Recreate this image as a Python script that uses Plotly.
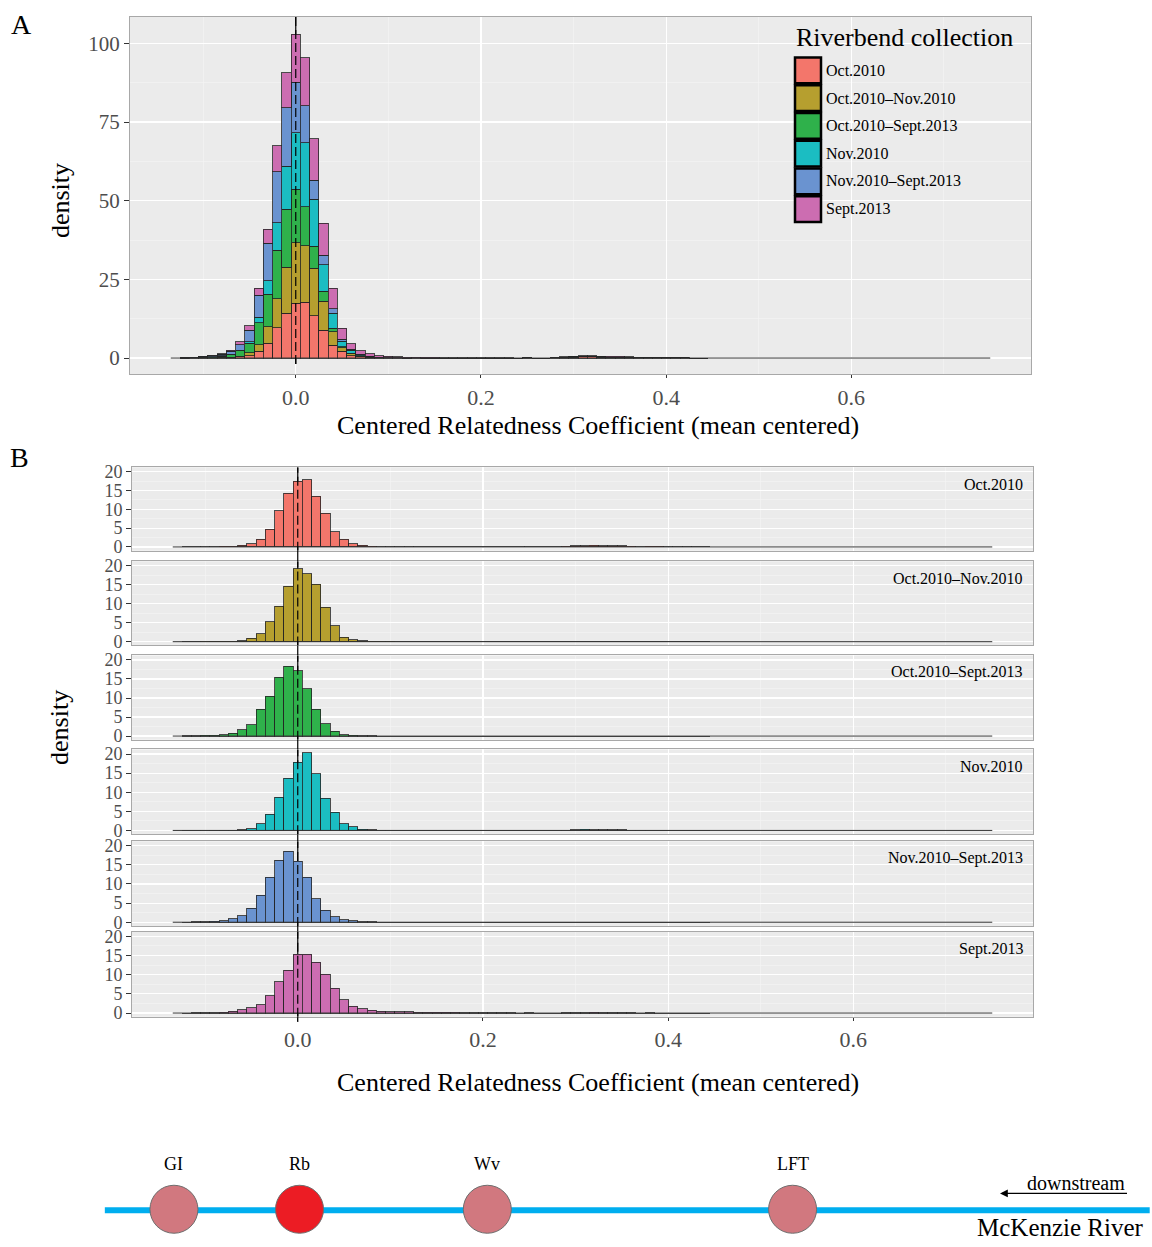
import plotly.graph_objects as go

W, H = 1152, 1247
FONT = "Liberation Serif"

# ---------------- data ----------------
GROUPS = ["Oct.2010", "Oct.2010\u2013Nov.2010", "Oct.2010\u2013Sept.2013",
          "Nov.2010", "Nov.2010\u2013Sept.2013", "Sept.2013"]
COLORS = ["#F3766B", "#B69F2F", "#2FB14B", "#1BBDC2", "#6A93D0", "#CC6DB1"]

BIN_WIDTH = 0.01
CORE_CENTERS = [-0.12, -0.11, -0.10, -0.09, -0.08, -0.07, -0.06, -0.05, -0.04,
                -0.03, -0.02, -0.01, 0.00, 0.01, 0.02, 0.03, 0.04, 0.05, 0.06,
                0.07, 0.08, 0.09, 0.10, 0.11, 0.12]
TAIL_CENTERS = [0.13, 0.14, 0.15, 0.16, 0.17, 0.18, 0.19, 0.20, 0.21, 0.22,
                0.23, 0.24, 0.25, 0.26, 0.27, 0.28, 0.29, 0.30, 0.31, 0.32,
                0.33, 0.34, 0.35, 0.36, 0.37, 0.38, 0.39, 0.40, 0.41, 0.42,
                0.43, 0.44]

OCT2010_CORE = [0, 0.05, 0.1, 0.1, 0.15, 0.2, 0.4, 0.8, 2.1, 4.7, 9.6, 14.3, 17.4,
                17.8, 13.5, 8.9, 4.1, 2.1, 0.8, 0.4, 0.2, 0.1, 0.05, 0.05, 0]
OCT2010_TAIL = [0.05, 0, 0, 0, 0, 0, 0, 0, 0, 0, 0, 0, 0.05, 0, 0, 0.05,
                0.2, 0.3, 0.35, 0.4, 0.3, 0.25, 0.3, 0.2, 0.1, 0.2, 0.15, 0.1, 0.05, 0.05, 0, 0]

OCTNOV_CORE = [0, 0, 0.05, 0.05, 0.1, 0.1, 0.2, 0.9, 2.1, 5.2, 9.3, 14.6, 19.2,
               17.9, 15.1, 9.1, 4.2, 1.2, 0.5, 0.2, 0.1, 0.05, 0.05, 0, 0]
OCTNOV_TAIL = [0] * 32

OCTSEPT_CORE = [0.05, 0.1, 0.15, 0.2, 0.35, 0.8, 1.7, 3.0, 7.0, 10.4, 15.4, 18.4, 17.1,
                12.4, 7.0, 3.2, 1.2, 0.35, 0.2, 0.1, 0.05, 0, 0, 0, 0]
OCTSEPT_TAIL = [0] * 32

NOV2010_CORE = [0, 0, 0.05, 0.05, 0.1, 0.1, 0.2, 0.5, 1.7, 4.3, 8.7, 13.6, 17.9,
                20.3, 14.8, 8.4, 4.8, 1.7, 0.9, 0.35, 0.15, 0.05, 0.05, 0, 0]
NOV2010_TAIL = [0, 0, 0, 0, 0, 0, 0, 0, 0, 0, 0, 0, 0, 0, 0, 0,
                0.1, 0.2, 0.25, 0.2, 0.2, 0.15, 0.15, 0.1, 0.1, 0, 0, 0, 0, 0, 0, 0]

NOVSEPT_CORE = [0.05, 0.1, 0.15, 0.25, 0.45, 0.9, 1.75, 3.7, 7.0, 11.8, 16.2, 18.6, 16.0,
                11.7, 6.1, 3.1, 1.4, 0.6, 0.35, 0.15, 0.1, 0.05, 0, 0, 0]
NOVSEPT_TAIL = [0] * 32

SEPT2013_CORE = [0, 0.05, 0.05, 0.1, 0.2, 0.45, 0.9, 1.4, 2.2, 4.5, 8.2, 11.2, 15.3,
                 15.3, 13.2, 10.1, 6.5, 3.5, 1.8, 1.1, 0.7, 0.45, 0.35, 0.3, 0.3]
SEPT2013_TAIL = [0.25, 0.2, 0.2, 0.15, 0.15, 0.1, 0.1, 0.1, 0.05, 0.05, 0.05, 0, 0.05, 0, 0, 0,
                 0.05, 0.1, 0.1, 0.15, 0.1, 0.1, 0.1, 0.05, 0, 0.1, 0, 0, 0, 0, 0, 0]

CORES = [OCT2010_CORE, OCTNOV_CORE, OCTSEPT_CORE, NOV2010_CORE, NOVSEPT_CORE, SEPT2013_CORE]
TAILS = [OCT2010_TAIL, OCTNOV_TAIL, OCTSEPT_TAIL, NOV2010_TAIL, NOVSEPT_TAIL, SEPT2013_TAIL]

X_MIN, X_MAX = -0.135, 0.75          # range of the observed coefficients
X_TICKS = [0.0, 0.2, 0.4, 0.6]
X_TICK_LABELS = ["0.0", "0.2", "0.4", "0.6"]
X_MINOR = [-0.1, 0.1, 0.3, 0.5, 0.7]
YA_TICKS = [0, 25, 50, 75, 100]
YA_MINOR = [12.5, 37.5, 62.5, 87.5]
YB_TICKS = [0, 5, 10, 15, 20]
YB_MINOR = [2.5, 7.5, 12.5, 17.5]

SITE_NAMES = ["GI", "Rb", "Wv", "LFT"]
SITE_POS = [15.1, 26.0, 42.3, 68.8]     # position along river schematic
SITE_FILL = ["#D1787F", "#EC1C24", "#D1787F", "#D1787F"]
RIVER_X = [9.1, 99.8]

# ---------------- helpers ----------------
def px(xp):
    return xp / W

def py(yp):
    return 1 - yp / H

BG = "#EBEBEB"
BORDER = "#A8A8A8"
TICKFONT_COLOR = "#4D4D4D"
OUTLINE = "rgba(35,35,35,0.8)"

fig = go.Figure()

xs_all = CORE_CENTERS + TAIL_CENTERS

# Panel A baseline + stacked bars
fig.add_trace(go.Scatter(x=[X_MIN, X_MAX], y=[0, 0], mode="lines",
                         line=dict(color="#333333", width=1), xaxis="x", yaxis="y",
                         showlegend=False, hoverinfo="skip"))
for g, col, core, tail in zip(GROUPS, COLORS, CORES, TAILS):
    fig.add_trace(go.Bar(x=xs_all, y=core + tail, width=BIN_WIDTH, name=g,
                         marker=dict(color=col, line=dict(color=OUTLINE, width=1)),
                         xaxis="x", yaxis="y", showlegend=False))

# Panel B facets
FACETS = [(466.7, 551.0), (561.7, 646.7), (656.7, 742.0),
          (751.7, 837.3), (844.3, 930.0), (935.7, 1021.7)]
for i, (g, col, core, tail) in enumerate(zip(GROUPS, COLORS, CORES, TAILS)):
    k = i + 2
    fig.add_trace(go.Scatter(x=[X_MIN, X_MAX], y=[0, 0], mode="lines",
                             line=dict(color="#333333", width=1),
                             xaxis=f"x{k}", yaxis=f"y{k}",
                             showlegend=False, hoverinfo="skip"))
    fig.add_trace(go.Bar(x=xs_all, y=core + tail, width=BIN_WIDTH, name=g,
                         marker=dict(color=col, line=dict(color=OUTLINE, width=1)),
                         xaxis=f"x{k}", yaxis=f"y{k}", showlegend=False))

# River schematic
fig.add_trace(go.Scatter(x=RIVER_X, y=[0.31, 0.31], mode="lines",
                         line=dict(color="#00AEEF", width=6),
                         xaxis="x8", yaxis="y8", showlegend=False, hoverinfo="skip"))
fig.add_trace(go.Scatter(x=SITE_POS, y=[0.32] * len(SITE_POS), mode="markers",
                         marker=dict(size=48, color=SITE_FILL,
                                     line=dict(color="#6E6E6E", width=1)),
                         xaxis="x8", yaxis="y8", showlegend=False, hoverinfo="skip"))

# ---------------- axes ----------------
def xaxis_cfg(domain, show_labels, anchor):
    return dict(domain=domain, anchor=anchor, range=[-0.179, 0.794],
                tickvals=X_TICKS, ticktext=X_TICK_LABELS,
                showticklabels=show_labels, ticks="outside" if show_labels else "",
                ticklen=3, tickwidth=1, tickcolor="#333333",
                tickfont=dict(family=FONT, size=22, color=TICKFONT_COLOR),
                showgrid=True, gridcolor="white", gridwidth=1.2,
                minor=dict(tickvals=X_MINOR, showgrid=True, gridcolor="#F5F5F5",
                           gridwidth=0.6, ticks=""),
                zeroline=False, showline=True, mirror=True,
                linecolor=BORDER, linewidth=1)

def yaxis_cfg(domain, rng, ticks, minor, size, anchor):
    return dict(domain=domain, anchor=anchor, range=rng, tickvals=ticks,
                ticks="outside", ticklen=5, tickwidth=1, tickcolor="#333333",
                tickfont=dict(family=FONT, size=size, color=TICKFONT_COLOR),
                showgrid=True, gridcolor="white", gridwidth=1.2,
                minor=dict(tickvals=minor, showgrid=True, gridcolor="#F5F5F5",
                           gridwidth=0.6, ticks=""),
                zeroline=False, showline=True, mirror=True,
                linecolor=BORDER, linewidth=1)

layout = dict(
    width=W, height=H, margin=dict(l=0, r=0, t=0, b=0),
    paper_bgcolor="white", plot_bgcolor="rgba(0,0,0,0)", barmode="stack",
    font=dict(family=FONT, color="black"),
    showlegend=False,
)
layout["xaxis"] = xaxis_cfg([px(130), px(1031)], True, "y")
layout["yaxis"] = yaxis_cfg([py(373), py(12)], [-5.2, 108.4], YA_TICKS, YA_MINOR, 21, "x")
for i, (top, bot) in enumerate(FACETS):
    k = i + 2
    layout[f"xaxis{k}"] = xaxis_cfg([px(132), px(1033)], i == 5, f"y{k}")
    if k != 2:
        layout[f"xaxis{k}"]["matches"] = "x2"
    layout[f"yaxis{k}"] = yaxis_cfg([py(bot), py(top)], [-1.0, 21.2], YB_TICKS, YB_MINOR, 18, f"x{k}")
layout["xaxis8"] = dict(domain=[0, 1], anchor="y8", range=[0, 100], visible=False)
layout["yaxis8"] = dict(domain=[0, 97 / H], anchor="x8", range=[0, 1], visible=False)

fig.update_layout(**layout)

# ---------------- panel backgrounds, reference lines at 0 ----------------
shapes = []
shapes.append(dict(type="rect", xref="paper", yref="paper", x0=px(130), x1=px(1031),
                   y0=py(373), y1=py(12), fillcolor=BG, line=dict(width=0), layer="below"))
for top, bot in FACETS:
    shapes.append(dict(type="rect", xref="paper", yref="paper", x0=px(132), x1=px(1033),
                       y0=py(bot), y1=py(top), fillcolor=BG, line=dict(width=0), layer="below"))

# panel A
shapes.append(dict(type="line", xref="x", yref="y", x0=0, x1=0, y0=-1.9, y1=108.4,
                   line=dict(color="black", width=1.2), layer="between"))
shapes.append(dict(type="line", xref="x", yref="y", x0=0, x1=0, y0=-1.9, y1=108.4,
                   line=dict(color="black", width=1.2, dash="9px,4px"), layer="above"))
# panel B
for i, (top, bot) in enumerate(FACETS):
    k = i + 2
    shapes.append(dict(type="line", xref=f"x{k}", yref=f"y{k}", x0=0, x1=0, y0=-1.0, y1=21.2,
                       line=dict(color="black", width=1.2), layer="between"))
    shapes.append(dict(type="line", xref=f"x{k}", yref=f"y{k}", x0=0, x1=0, y0=-1.0, y1=21.2,
                       line=dict(color="black", width=1.2, dash="9px,4px"), layer="above"))
    nxt = FACETS[i + 1][0] if i < 5 else 1027
    shapes.append(dict(type="line", xref="x2", yref="paper", x0=0, x1=0, y0=py(bot), y1=py(nxt),
                       line=dict(color="black", width=1.2), layer="above"))

# manual legend swatches
for i, col in enumerate(COLORS):
    top = 53 + 28 * i
    shapes.append(dict(type="rect", xref="paper", yref="paper",
                       x0=px(795), x1=px(821), y0=py(top + 26), y1=py(top),
                       fillcolor=col, line=dict(color="black", width=2.5), layer="above"))
fig.update_layout(shapes=shapes)

# ---------------- annotations ----------------
ann = []
def text(x, y, s, size, xanchor="center", yanchor="middle", color="black", angle=0):
    ann.append(dict(x=px(x), y=py(y), xref="paper", yref="paper", text=s, showarrow=False,
                    xanchor=xanchor, yanchor=yanchor, textangle=angle,
                    font=dict(family=FONT, size=size, color=color)))

text(21, 20, "A", 28)
text(19, 457, "B", 28)
text(598, 425, "Centered Relatedness Coefficient (mean centered)", 26)
text(598, 1088, "Centered Relatedness Coefficient (mean centered)", 26)
text(60, 198, "density", 26, angle=-90)
text(60, 730, "density", 26, angle=-90)
text(794, 33, "Riverbend collection", 26, xanchor="left")
for i, g in enumerate(GROUPS):
    text(824, 53 + 28 * i + 13, g, 16, xanchor="left")
for i, (top, bot) in enumerate(FACETS):
    text(1025, top + 17, GROUPS[i], 16, xanchor="right")

# river labels
for name, pos in zip(SITE_NAMES, SITE_POS):
    ann.append(dict(x=pos, y=0.79, xref="x8", yref="y8", text=name, showarrow=False,
                    font=dict(family=FONT, size=18, color="black")))
text(1076, 1189, "downstream", 20)
text(1146, 1234, "McKenzie River", 25, xanchor="right")
ann.append(dict(x=px(1000), y=py(1200), xref="paper", yref="paper", text=" ",
                showarrow=True, ax=130, ay=0, arrowhead=2, arrowsize=1.2,
                arrowwidth=1.3, arrowcolor="black"))
fig.update_layout(annotations=ann)

fig.write_html("out.html", config={"staticPlot": True})
